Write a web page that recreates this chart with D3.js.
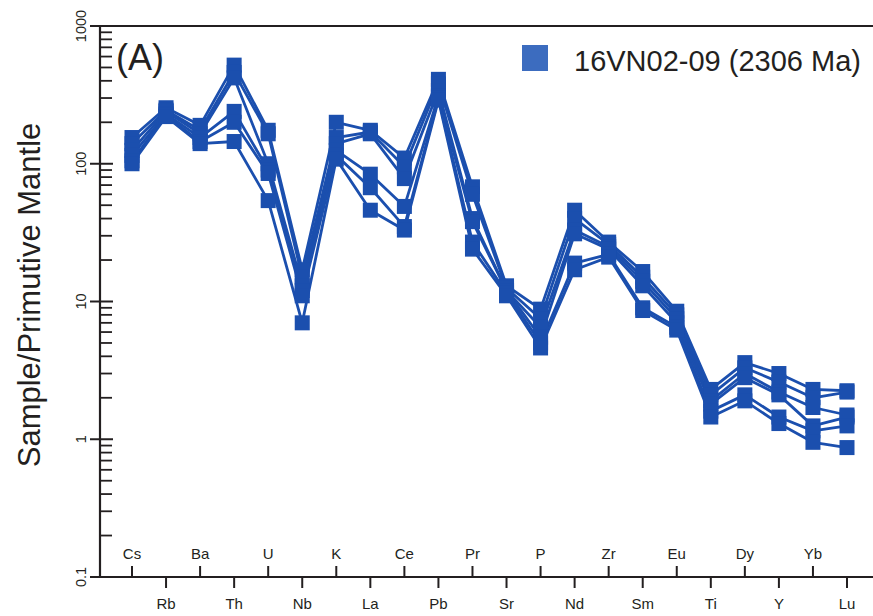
<!DOCTYPE html>
<html>
<head>
<meta charset="utf-8">
<script src="https://cdn.jsdelivr.net/npm/d3@7"></script>
<style>
  html, body { margin: 0; padding: 0; background: #ffffff; }
  svg { display: block; font-family: "Liberation Sans", Arial, sans-serif; }
</style>
</head>
<body>
<svg id="chart" width="873" height="616"></svg>
<script>
// Primitive-mantle normalised trace elements, spider diagram order
const elements = ["Cs","Rb","Ba","Th","U","Nb","K","La","Ce","Pb","Pr","Sr","P","Nd","Zr","Sm","Eu","Ti","Dy","Y","Yb","Lu"];

// One array per analysed sample (values normalised to primitive mantle)
const sample1 = [155, 255, 190, 520, 175, 17,  200, 175, 110, 410, 68, 13,   8.8, 46, 27, 16.5, 8.5, 2.3,  3.6, 3.0,  2.3,  2.25];
const sample2 = [140, 245, 175, 460, 165, 15,  155, 170, 95,  380, 60, 12.5, 7.5, 40, 26, 15,   8.0, 2.1,  3.3, 2.6,  2.0,  2.2];
const sample3 = [125, 240, 165, 420, 100, 13,  140, 165, 78,  340, 40, 12,   6.5, 33, 25, 14,   7.5, 1.9,  3.0, 2.2,  1.7,  1.5];
const sample4 = [115, 230, 155, 240, 90,  12,  125, 84,  49,  310, 38, 12,   5.5, 31, 24, 13,   7.0, 1.8,  2.8, 2.1,  1.25, 1.45];
const sample5 = [105, 225, 145, 200, 85,  11,  115, 67,  35,  300, 27, 11.5, 5.0, 19, 22, 9.0,  6.5, 1.6,  2.1, 1.45, 1.15, 1.25];
const sample6 = [100, 220, 140, 145, 54,  7,   108, 46,  33,  290, 24, 11,   4.6, 17, 21, 8.6,  6.2, 1.45, 1.9, 1.3,  0.95, 0.87];
const samples = [sample1, sample2, sample3, sample4, sample5, sample6];

const yTickValues = [0.1, 1, 10, 100, 1000];
const yTickLabels = ["0.1", "1", "10", "100", "1000"];
const legendLabel = "16VN02-09 (2306 Ma)";
const panelLabel = "(A)";
const yTitle = "Sample/Primutive Mantle";

const lineColor = "#1b4fae";
const axisColor = "#231f20";

const svg = d3.select("#chart");

const x = d3.scalePoint().domain(elements).range([132, 847]);
const y = d3.scaleLog().domain([0.1, 1000]).range([577, 26]);

const axisLeft = 100;

// frame: top rule, left axis, bottom axis
svg.append("line").attr("x1", 92).attr("x2", 873).attr("y1", 26).attr("y2", 26)
  .attr("stroke", axisColor).attr("stroke-width", 2);
svg.append("line").attr("x1", axisLeft).attr("x2", axisLeft).attr("y1", 25).attr("y2", 578)
  .attr("stroke", axisColor).attr("stroke-width", 2.2);
svg.append("line").attr("x1", 92).attr("x2", 873).attr("y1", 577).attr("y2", 577)
  .attr("stroke", axisColor).attr("stroke-width", 2.2);

// log-axis ticks: majors cross the axis, minors point inward
const yTicks = svg.append("g");
yTickValues.forEach(v => {
  yTicks.append("line").attr("x1", 90).attr("x2", 113)
    .attr("y1", y(v)).attr("y2", y(v))
    .attr("stroke", axisColor).attr("stroke-width", 2);
});
for (let d = 0; d < 4; d++) {
  for (let m = 2; m <= 9; m++) {
    const v = m * Math.pow(10, d - 1);
    yTicks.append("line").attr("x1", axisLeft).attr("x2", 112)
      .attr("y1", y(v)).attr("y2", y(v))
      .attr("stroke", axisColor).attr("stroke-width", 1.8);
  }
}
yTickValues.forEach((v, i) => {
  svg.append("text")
    .attr("transform", `translate(86,${y(v)}) rotate(-90)`)
    .attr("text-anchor", "middle")
    .attr("font-size", 14.5)
    .attr("fill", axisColor)
    .text(yTickLabels[i]);
});

// x ticks and labels alternate above / below the axis
const xAxis = svg.append("g");
elements.forEach((el, i) => {
  const up = i % 2 === 0;
  xAxis.append("line")
    .attr("x1", x(el)).attr("x2", x(el))
    .attr("y1", 577).attr("y2", up ? 566 : 588)
    .attr("stroke", axisColor).attr("stroke-width", 2);
  xAxis.append("text")
    .attr("x", x(el)).attr("y", up ? 559 : 609)
    .attr("text-anchor", "middle")
    .attr("font-size", 15)
    .attr("fill", axisColor)
    .text(el);
});

// y-axis title
svg.append("text")
  .attr("transform", "translate(40,295) rotate(-90)")
  .attr("text-anchor", "middle")
  .attr("font-size", 31)
  .attr("fill", axisColor)
  .text(yTitle);

// panel label
svg.append("text")
  .attr("x", 116).attr("y", 70)
  .attr("font-size", 36)
  .attr("fill", axisColor)
  .text(panelLabel);

// sample patterns
const line = d3.line()
  .x((d, i) => x(elements[i]))
  .y(d => y(d));

const plot = svg.append("g");
samples.forEach(s => {
  plot.append("path")
    .attr("d", line(s))
    .attr("fill", "none")
    .attr("stroke", lineColor)
    .attr("stroke-width", 2.8)
    .attr("stroke-linejoin", "round");
});
const msize = 15;
samples.forEach(s => {
  plot.selectAll(null)
    .data(s)
    .enter()
    .append("rect")
    .attr("x", (d, i) => x(elements[i]) - msize / 2)
    .attr("y", d => y(d) - msize / 2)
    .attr("width", msize)
    .attr("height", msize)
    .attr("fill", lineColor);
});

// legend
svg.append("rect")
  .attr("x", 522).attr("y", 45).attr("width", 26).attr("height", 26)
  .attr("fill", "#3c6cbf");
svg.append("text")
  .attr("x", 574).attr("y", 71)
  .attr("font-size", 29)
  .attr("fill", axisColor)
  .text(legendLabel);
</script>
</body>
</html>
